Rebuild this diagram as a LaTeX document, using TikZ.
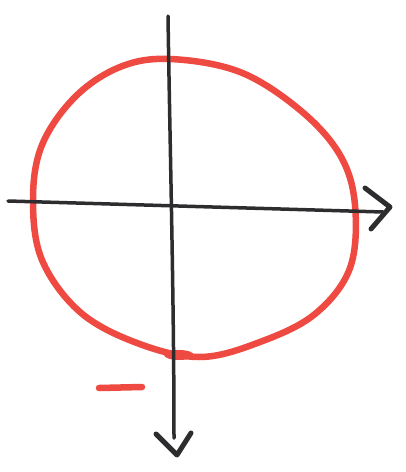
\documentclass[tikz,border=0pt]{standalone}
\definecolor{sketchred}{RGB}{238,74,66}
\definecolor{sketchblack}{RGB}{45,45,48}
\tikzset{
  redpen/.style={draw=sketchred, line width=6.5pt, line cap=round, line join=round},
  blackpen/.style={draw=sketchblack, line width=3.5pt, line cap=round, line join=round},
}
\begin{document}
\begin{tikzpicture}[x=1pt,y=-1pt]
\useasboundingbox (0,0) rectangle (406,472);
% red circle
\draw[redpen] plot[smooth cycle, tension=0.6] coordinates {
  (170,59) (240,72) (300,110) (340,155) (355,205)
  (350,268) (315,314) (260,342) (200,357)
  (137,343) (80,312) (42,260) (33,200)
  (42,145) (75,97) (120,67)};
% thickened spot where the pen crossed the axis
\fill[sketchred] (179,355) ellipse [x radius=15pt, y radius=5pt];
% red dash
\draw[redpen] (99,388) -- (142,387);
% horizontal axis
\coordinate (hl) at (8,201);
\coordinate (hr) at (383,212);
\draw[blackpen] (hl) -- (hr);
\draw[blackpen, line width=5pt] (365,188) -- (390,207) -- (371,229);
% vertical axis
\coordinate (vt) at (168,16);
\coordinate (vb) at (174,438);
\draw[blackpen] (vt) .. controls (170,150) and (174,300) .. (vb);
\draw[blackpen, line width=5pt] (156,434) -- (177,455) -- (191,433);
\end{tikzpicture}
\end{document}
